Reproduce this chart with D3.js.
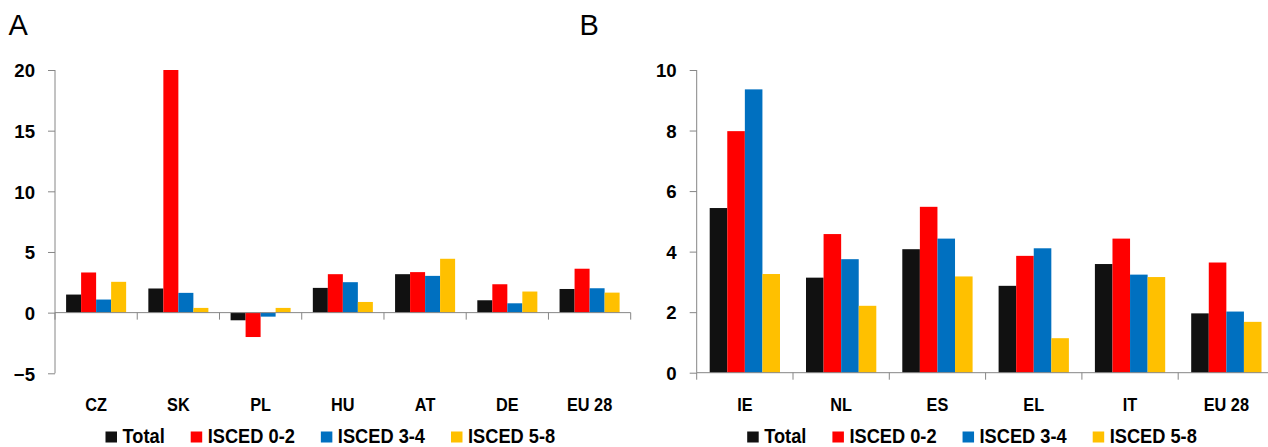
<!DOCTYPE html>
<html>
<head>
<meta charset="utf-8">
<script src="https://cdn.jsdelivr.net/npm/d3@7"></script>
<style>
  html, body { margin: 0; padding: 0; background: #fff; }
  svg { display: block; }
  .lbl { font-family: "Liberation Sans", Arial, sans-serif; font-weight: bold; fill: #000; }
  .ttl { font-family: "Liberation Sans", Arial, sans-serif; fill: #000; }
</style>
</head>
<body>
<svg id="chart" width="1268" height="447"></svg>
<script>
// ---- data ----
const seriesNames = ["Total", "ISCED 0-2", "ISCED 3-4", "ISCED 5-8"];
const seriesColors = ["#111111", "#ff0000", "#0070c0", "#ffc000"];

const categoriesA = ["CZ", "SK", "PL", "HU", "AT", "DE", "EU 28"];
const totalA   = [1.49, 1.99, -0.63, 2.04, 3.17, 1.02, 1.95];
const isced02A = [3.31, 20.0, -2.01, 3.17, 3.34, 2.34, 3.62];
const isced34A = [1.08, 1.63, -0.33, 2.51, 3.03, 0.77, 2.01];
const isced58A = [2.54, 0.39, 0.39, 0.88, 4.44, 1.74, 1.65];
const ticksA = [-5, 0, 5, 10, 15, 20];

const categoriesB = ["IE", "NL", "ES", "EL", "IT", "EU 28"];
const totalB   = [5.44, 3.14, 4.08, 2.87, 3.59, 1.96];
const isced02B = [7.98, 4.58, 5.48, 3.86, 4.43, 3.64];
const isced34B = [9.36, 3.75, 4.43, 4.11, 3.24, 2.02];
const isced58B = [3.26, 2.21, 3.18, 1.14, 3.16, 1.68];
const ticksB = [0, 2, 4, 6, 8, 10];

const svg = d3.select("#chart");
const axisColor = "#868686";
const condense = 0.875;

function drawPanel(cfg) {
  const g = svg.append("g");
  const x = d3.scaleBand().domain(cfg.categories).range([cfg.x0, cfg.x1]).padding(0);
  const bw = x.bandwidth();
  const gap = bw * 0.135;
  const x1 = d3.scaleBand().domain(seriesNames).range([gap, bw - gap]).padding(0);
  const y = d3.scaleLinear().domain(cfg.domain).range([cfg.yBottom, cfg.yTop]);

  // bars
  const series = [cfg.total, cfg.i02, cfg.i34, cfg.i58];
  series.forEach((vals, si) => {
    g.append("g").selectAll("rect").data(vals).join("rect")
      .attr("x", (d, i) => x(cfg.categories[i]) + x1(seriesNames[si]))
      .attr("width", x1.bandwidth())
      .attr("y", d => y(Math.max(0, d)))
      .attr("height", d => Math.abs(y(d) - y(0)))
      .attr("fill", seriesColors[si]);
  });

  // y axis
  const yAxis = g.append("g").attr("transform", `translate(${cfg.x0},0)`)
    .call(d3.axisLeft(y).tickValues(cfg.ticks).tickSize(7).tickPadding(13).tickFormat(d3.format("d")));
  yAxis.select(".domain").attr("stroke", axisColor).attr("d", `M0,${y(cfg.domain[0])}V${y(cfg.domain[1])}`);
  yAxis.selectAll(".tick line").attr("stroke", axisColor);
  yAxis.selectAll(".tick text").attr("class", "lbl").style("font-size", "18.6px").attr("dy", "0.36em");

  // x axis at zero
  const y0 = y(0);
  g.append("line").attr("x1", cfg.x0).attr("x2", cfg.x1).attr("y1", y0).attr("y2", y0)
    .attr("stroke", axisColor);
  const bounds = cfg.categories.map(c => x(c)).concat([cfg.x1]);
  g.append("g").selectAll("line").data(bounds).join("line")
    .attr("x1", d => d).attr("x2", d => d).attr("y1", y0).attr("y2", y0 + 7)
    .attr("stroke", axisColor);

  // category labels (condensed to mimic Calibri Bold)
  g.append("g").selectAll("text").data(cfg.categories).join("text")
    .attr("class", "lbl").style("font-size", "18.6px")
    .attr("transform", d => `translate(${x(d) + bw / 2},411) scale(${condense},1)`)
    .attr("text-anchor", "middle")
    .text(d => d);

  // panel title
  g.append("text").attr("class", "ttl").style("font-size", "29px")
    .attr("x", cfg.titleX).attr("y", 34.5).text(cfg.title);

  // legend
  const lg = g.append("g");
  let lx = cfg.legendX;
  seriesNames.forEach((name, si) => {
    lg.append("rect").attr("x", lx).attr("y", 431.5).attr("width", 11.5).attr("height", 11)
      .attr("fill", seriesColors[si]);
    const t = lg.append("text").attr("class", "lbl").style("font-size", "20.5px")
      .attr("transform", `translate(${lx + 17},442.5) scale(0.89,1)`).text(name);
    lx = lx + 17 + t.node().getComputedTextLength() * 0.89 + 26;
  });
}

drawPanel({
  categories: categoriesA, total: totalA, i02: isced02A, i34: isced34A, i58: isced58A,
  ticks: ticksA, domain: [-5, 20], x0: 55, x1: 630.7, yTop: 70, yBottom: 373.3,
  title: "A", titleX: 8.5, legendX: 105.5
});
drawPanel({
  categories: categoriesB, total: totalB, i02: isced02B, i34: isced34B, i58: isced58B,
  ticks: ticksB, domain: [0, 10], x0: 696.7, x1: 1274.5, yTop: 70, yBottom: 372.7,
  title: "B", titleX: 579.5, legendX: 747.2
});
</script>
</body>
</html>
